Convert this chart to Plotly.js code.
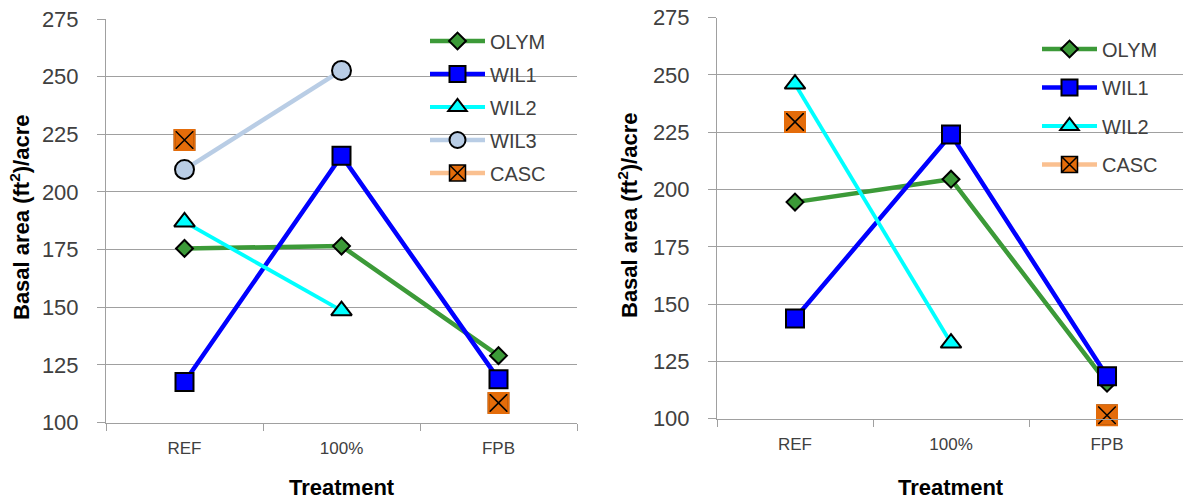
<!DOCTYPE html>
<html>
<head>
<meta charset="utf-8">
<script src="https://cdn.plot.ly/plotly-3.0.1.min.js"></script>
<style>html,body{margin:0;padding:0;background:#fff;}#chart{width:1183px;height:502px;}</style>
</head>
<body>
<div id="chart"></div>
<script>
// ---- data ----
var categories = ['REF', '100%', 'FPB'];
var yTicks = [100, 125, 150, 175, 200, 225, 250, 275];

// left panel
var olymL = [175.5, 176.5, 129.0];
var wil1L = [117.6, 215.7, 118.8];
var wil2L = [187.0, 148.5, null];
var wil3L = [209.7, 252.7, null];
var cascL = [222.5, null, 108.5];

// right panel
var olymR = [194.5, 204.5, 115.5];
var wil1R = [143.7, 224.0, 118.5];
var wil2R = [246.0, 133.0, null];
var cascR = [229.5, null, 101.5];

var FONT = '"Liberation Sans", Arial, sans-serif';
var TXT = '#404040';

var styles = {
  OLYM: {line: '#3C9A38', fill: '#3C9A38', symbol: 'diamond', size: 13, lw: 4.5},
  WIL1: {line: '#0000FF', fill: '#0000FF', symbol: 'square', size: 18, lw: 4.5},
  WIL2: {line: '#00FFFF', fill: '#00FFFF', symbol: 'triangle-up', size: 18, lw: 3.8},
  WIL3: {line: '#B9CDE5', fill: '#B9CDE5', symbol: 'circle', size: 19, lw: 4.5},
  CASC: {line: '#FAC090', fill: '#E46C0A', symbol: 'square-x', size: 20, lw: 4.5}
};

function series(name, vals, xa, ya, leg) {
  var s = styles[name];
  var tr = [{
    type: 'scatter', mode: 'lines+markers', name: name,
    x: categories, y: vals, xaxis: xa, yaxis: ya, legend: leg,
    legendgroup: leg + name,
    connectgaps: false, cliponaxis: false,
    line: {color: s.line, width: s.lw},
    marker: {symbol: s.symbol, size: s.size, color: s.fill,
             line: {color: '#000000', width: name === 'CASC' ? 1.5 : 2}},
    hoverinfo: 'x+y+name'
  }];
  if (name === 'CASC') {
    tr.push({
      type: 'scatter', mode: 'markers', name: name, showlegend: false,
      x: categories, y: vals, xaxis: xa, yaxis: ya, legend: leg,
      legendgroup: leg + name, cliponaxis: false,
      marker: {symbol: 'square-open', size: s.size, color: s.fill,
               line: {color: s.fill, width: 2}},
      hoverinfo: 'skip'
    });
  }
  return tr;
}

var data = [].concat(
  series('OLYM', olymL, 'x', 'y', 'legend'),
  series('WIL1', wil1L, 'x', 'y', 'legend'),
  series('WIL2', wil2L, 'x', 'y', 'legend'),
  series('WIL3', wil3L, 'x', 'y', 'legend'),
  series('CASC', cascL, 'x', 'y', 'legend'),
  series('OLYM', olymR, 'x2', 'y2', 'legend2'),
  series('WIL1', wil1R, 'x2', 'y2', 'legend2'),
  series('WIL2', wil2R, 'x2', 'y2', 'legend2'),
  series('CASC', cascR, 'x2', 'y2', 'legend2')
);

var W = 1183, H = 502;
function px(x) { return x / W; }
function py(y) { return 1 - y / H; }

function xAxis(domain, range, anchor) {
  return {
    domain: domain, anchor: anchor, type: 'category',
    categoryorder: 'array', categoryarray: categories,
    range: range, fixedrange: true,
    showgrid: false, zeroline: false,
    showline: true, linecolor: '#A0A0A0', linewidth: 1,
    ticks: 'outside', tickson: 'boundaries', ticklen: 7, tickcolor: '#A0A0A0', tickwidth: 1,
    tickfont: {family: FONT, size: 17, color: TXT},
    ticklabelstandoff: 10,
    automargin: false
  };
}
function yAxis(domain, anchor) {
  return {
    domain: domain, anchor: anchor,
    range: [100, 275], fixedrange: true,
    tickvals: yTicks, ticktext: yTicks.map(String),
    showgrid: true, gridcolor: '#A0A0A0', gridwidth: 1,
    zeroline: false,
    showline: true, linecolor: '#A0A0A0', linewidth: 1,
    ticks: 'outside', ticklen: 8, tickcolor: '#A0A0A0', tickwidth: 1,
    tickfont: {family: FONT, size: 22, color: TXT},
    ticklabelstandoff: 14,
    automargin: false
  };
}

var layout = {
  width: W, height: H,
  margin: {l: 0, r: 0, t: 0, b: 0, pad: 0},
  paper_bgcolor: '#ffffff', plot_bgcolor: '#ffffff',
  showlegend: true,
  xaxis: xAxis([px(106), px(577)], [-0.5, 2.5], 'y'),
  yaxis: yAxis([py(422.5), py(19)], 'x'),
  xaxis2: xAxis([px(717), 1], [-0.5, 2.487], 'y2'),
  yaxis2: yAxis([py(418.7), py(17.6)], 'x2'),
  legend: {
    x: px(425), y: py(21.5), xanchor: 'left', yanchor: 'top',
    bgcolor: 'rgba(0,0,0,0)', borderwidth: 0,
    font: {family: FONT, size: 20, color: TXT},
    itemwidth: 55, traceorder: 'grouped', tracegroupgap: 4
  },
  legend2: {
    x: px(1037), y: py(29.5), xanchor: 'left', yanchor: 'top',
    bgcolor: 'rgba(0,0,0,0)', borderwidth: 0,
    font: {family: FONT, size: 20, color: TXT},
    itemwidth: 55, traceorder: 'grouped', tracegroupgap: 9.5
  },
  annotations: [
    {text: '<b>Basal area (ft<sup>2</sup>)/acre</b>', xref: 'paper', yref: 'paper',
     x: px(20), y: py(218), textangle: -90, showarrow: false,
     xanchor: 'center', yanchor: 'middle', font: {family: FONT, size: 22, color: '#000'}},
    {text: '<b>Treatment</b>', xref: 'paper', yref: 'paper',
     x: px(341.5), y: py(487), showarrow: false,
     xanchor: 'center', yanchor: 'middle', font: {family: FONT, size: 22, color: '#000'}},
    {text: '<b>Basal area (ft<sup>2</sup>)/acre</b>', xref: 'paper', yref: 'paper',
     x: px(628), y: py(216), textangle: -90, showarrow: false,
     xanchor: 'center', yanchor: 'middle', font: {family: FONT, size: 22, color: '#000'}},
    {text: '<b>Treatment</b>', xref: 'paper', yref: 'paper',
     x: px(951), y: py(487), showarrow: false,
     xanchor: 'center', yanchor: 'middle', font: {family: FONT, size: 22, color: '#000'}}
  ]
};

Plotly.newPlot('chart', data, layout, {displayModeBar: false, staticPlot: true});
</script>
</body>
</html>
